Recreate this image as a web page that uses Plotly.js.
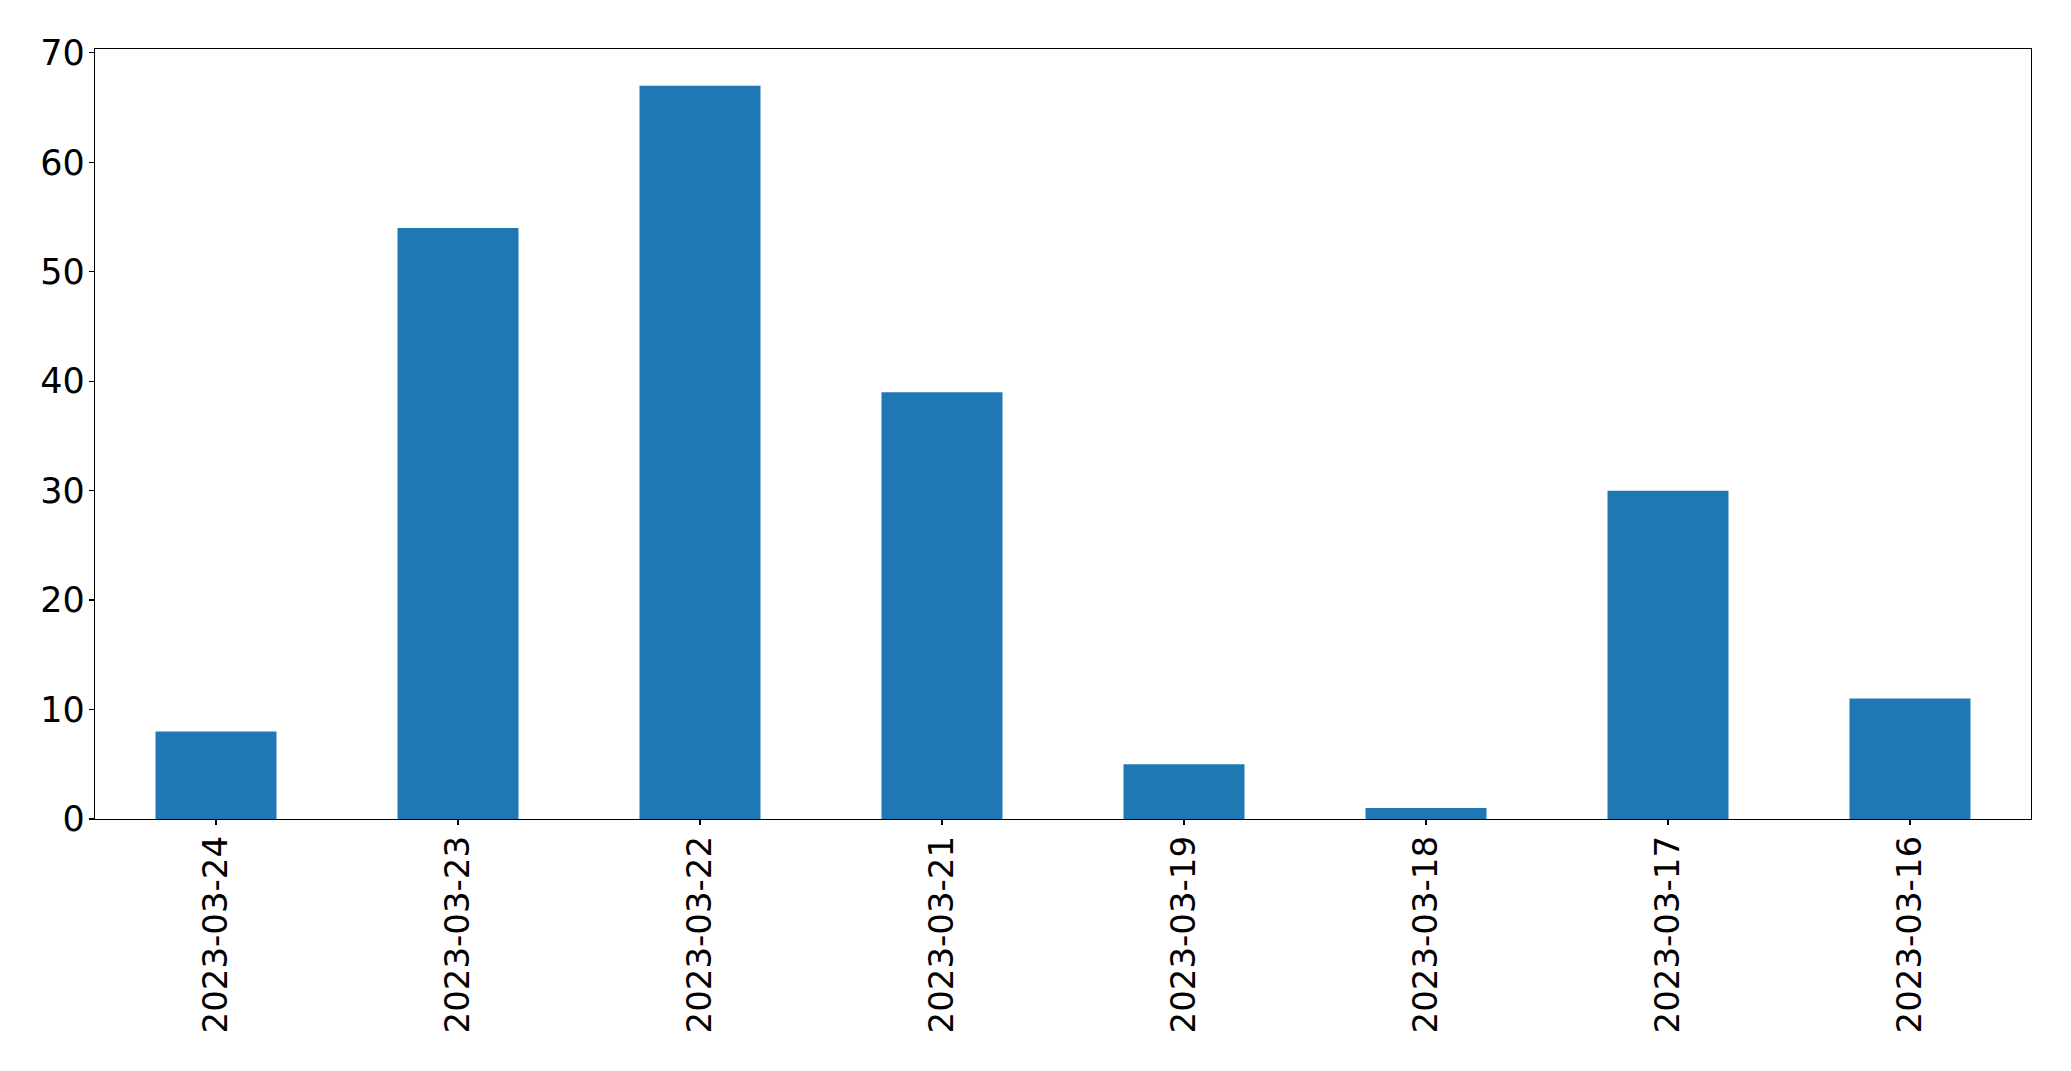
<!DOCTYPE html>
<html>
<head>
<meta charset="utf-8">
<script src="https://cdn.plot.ly/plotly-3.0.1.min.js"></script>
<style>html,body{margin:0;padding:0;background:#fff;}#chart{width:2071px;height:1071px;}</style>
</head>
<body>
<div id="chart"></div>
<script>
const categories = ["2023-03-24","2023-03-23","2023-03-22","2023-03-21","2023-03-19","2023-03-18","2023-03-17","2023-03-16"];
const counts = [8, 54, 67, 39, 5, 1, 30, 11];
const yTicks = [0, 10, 20, 30, 40, 50, 60, 70];

const trace = {
  type: 'bar',
  x: categories,
  y: counts,
  width: 0.5,
  marker: {color: '#1f77b4', line: {width: 0}},
  hoverinfo: 'x+y'
};

const layout = {
  width: 2071,
  height: 1071,
  margin: {l: 95, r: 40, t: 49, b: 252},
  paper_bgcolor: '#ffffff',
  plot_bgcolor: '#ffffff',
  showlegend: false,
  font: {family: 'DejaVu Sans', size: 34, color: '#000000'},
  xaxis: {
    type: 'category',
    range: [-0.5, 7.5],
    tickangle: -90,
    ticks: 'outside',
    ticklen: 5,
    tickwidth: 1.3,
    tickcolor: '#000',
    ticklabelstandoff: -3,
    showline: true,
    linecolor: '#000',
    linewidth: 1.3,
    mirror: true,
    showgrid: false,
    zeroline: false,
    tickfont: {family: 'DejaVu Sans', size: 34, color: '#000'}
  },
  yaxis: {
    range: [0, 70.35],
    tickvals: yTicks,
    ticktext: yTicks.map(String),
    ticks: 'outside',
    ticklen: 5,
    tickwidth: 1.3,
    tickcolor: '#000',
    ticklabelstandoff: -3,
    showline: true,
    linecolor: '#000',
    linewidth: 1.3,
    mirror: true,
    showgrid: false,
    zeroline: false,
    tickfont: {family: 'DejaVu Sans', size: 35, color: '#000'}
  }
};

Plotly.newPlot('chart', [trace], layout, {displayModeBar: false, staticPlot: true});
</script>
</body>
</html>
